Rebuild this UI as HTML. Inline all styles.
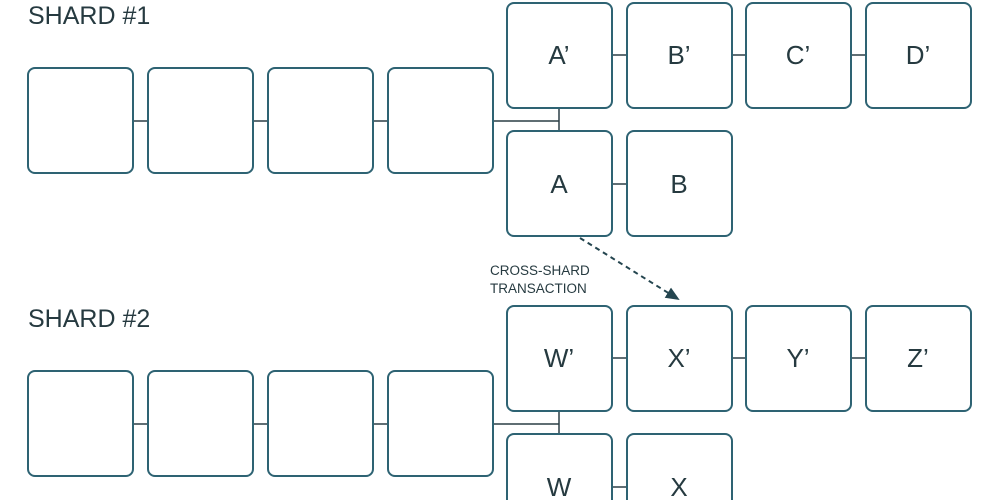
<!DOCTYPE html><html><head><style>
html,body{margin:0;width:1000px;height:500px;overflow:hidden;background:#fff}
svg{display:block}
</style></head><body>
<svg width="1000" height="500" xmlns="http://www.w3.org/2000/svg" font-family="Liberation Sans, sans-serif">
<defs><marker id="ah" markerUnits="userSpaceOnUse" markerWidth="14" markerHeight="14" refX="12" refY="7" orient="auto"><path d="M0,1 L14,7 L0,13 z" fill="#24454f"/></marker>
<g id="shard">
<g stroke="#2a3e45" stroke-width="1.5">
<line x1="133" y1="121" x2="148" y2="121"/><line x1="253" y1="121" x2="268" y2="121"/><line x1="373" y1="121" x2="388" y2="121"/>
<line x1="493" y1="121" x2="559" y2="121"/><line x1="559" y1="108" x2="559" y2="131"/>
<line x1="612" y1="55" x2="627" y2="55"/><line x1="732" y1="55" x2="746" y2="55"/><line x1="851" y1="55" x2="866" y2="55"/>
<line x1="612" y1="184" x2="627" y2="184"/>
</g>
<g fill="#fff" stroke="#2e6373" stroke-width="2">
<rect x="28" y="68" width="105" height="105" rx="7"/><rect x="148" y="68" width="105" height="105" rx="7"/>
<rect x="268" y="68" width="105" height="105" rx="7"/><rect x="388" y="68" width="105" height="105" rx="7"/>
<rect x="507" y="3" width="105" height="105" rx="7"/><rect x="627" y="3" width="105" height="105" rx="7"/>
<rect x="746" y="3" width="105" height="105" rx="7"/><rect x="866" y="3" width="105" height="105" rx="7"/>
<rect x="507" y="131" width="105" height="105" rx="7"/><rect x="627" y="131" width="105" height="105" rx="7"/>
</g></g></defs>
<use href="#shard"/>
<use href="#shard" y="303"/>
<g fill="#263a40" font-size="26" text-anchor="middle">
<text x="559" y="64">A’</text><text x="679" y="64">B’</text><text x="798" y="64">C’</text><text x="918" y="64">D’</text>
<text x="559" y="193">A</text><text x="679" y="193">B</text>
<text x="559" y="367">W’</text><text x="679" y="367">X’</text><text x="798" y="367">Y’</text><text x="918" y="367">Z’</text>
<text x="559" y="496">W</text><text x="679" y="496">X</text>
</g>
<g fill="#263a40" font-size="25">
<text x="28" y="24">SHARD #1</text><text x="28" y="327">SHARD #2</text>
</g>
<g fill="#263a40" font-size="13.5">
<text x="490" y="275">CROSS-SHARD</text><text x="490" y="293">TRANSACTION</text>
</g>
<line x1="580" y1="238" x2="678" y2="299" stroke="#24454f" stroke-width="2" stroke-dasharray="5,4" marker-end="url(#ah)"/>
</svg>
</body></html>
